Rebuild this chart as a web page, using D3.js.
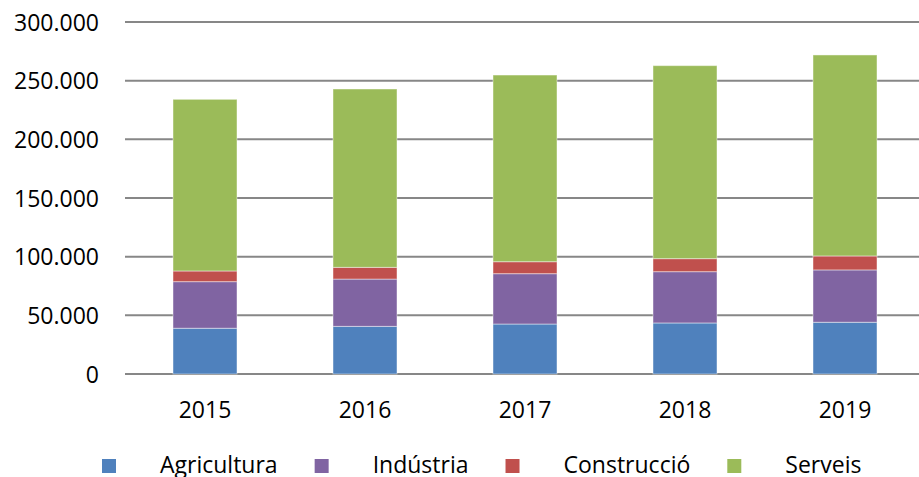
<!DOCTYPE html>
<html>
<head>
<meta charset="utf-8">
<script src="https://cdn.jsdelivr.net/npm/d3@7"></script>
<style>
  body { margin: 0; background: #fff; }
  svg { display: block; font-family: "Open Sans", sans-serif; }
</style>
</head>
<body>
<svg></svg>
<script>
const years = ["2015", "2016", "2017", "2018", "2019"];
const sectors = ["Agricultura", "Indústria", "Construcció", "Serveis"];
const agricultura = [39000, 40600, 42600, 43500, 44100];
const industria = [39700, 40300, 42900, 43700, 44600];
const construccio = [9100, 10000, 10200, 11100, 11900];
const serveis = [146300, 152000, 159100, 164500, 171300];
const yTicks = [0, 50000, 100000, 150000, 200000, 250000, 300000];
const colors = ["#4F81BD", "#8064A2", "#C0504D", "#9BBB59"];

const width = 919;
const height = 477;

const rows = years.map((y, i) => ({
  year: y,
  "Agricultura": agricultura[i],
  "Indústria": industria[i],
  "Construcció": construccio[i],
  "Serveis": serveis[i]
}));

const svg = d3.select("svg").attr("width", width).attr("height", height);

const x = d3.scaleBand().domain(years).range([125, 925]);
const y = d3.scaleLinear().domain([0, 300000]).range([374, 22]);
const color = d3.scaleOrdinal().domain(sectors).range(colors);

const fmt = d3.formatLocale({ decimal: ",", thousands: ".", grouping: [3], currency: ["", "€"] }).format(",d");

// gridlines
svg.append("g")
  .selectAll("line")
  .data(yTicks)
  .join("line")
  .attr("x1", 125)
  .attr("x2", width)
  .attr("y1", d => y(d))
  .attr("y2", d => y(d))
  .attr("stroke", "#878787")
  .attr("stroke-width", 2);

// y labels
svg.append("g")
  .selectAll("text")
  .data(yTicks)
  .join("text")
  .attr("x", 99)
  .attr("y", d => y(d) + 8.5)
  .attr("text-anchor", "end")
  .attr("font-size", 23)
  .attr("fill", "#000")
  .text(d => fmt(d));

// stacked bars
const series = d3.stack().keys(sectors)(rows);
const barW = x.bandwidth() * 0.4;

svg.append("g")
  .selectAll("g")
  .data(series)
  .join("g")
  .attr("fill", d => color(d.key))
  .selectAll("rect")
  .data(d => d)
  .join("rect")
  .attr("x", d => x(d.data.year) + (x.bandwidth() - barW) / 2)
  .attr("y", d => y(d[1]))
  .attr("width", barW)
  .attr("height", d => y(d[0]) - y(d[1]))
  .attr("stroke", "rgba(255,255,255,0.45)")
  .attr("stroke-width", 1);

// x labels
svg.append("g")
  .selectAll("text")
  .data(years)
  .join("text")
  .attr("x", d => x(d) + x.bandwidth() / 2)
  .attr("y", 418)
  .attr("text-anchor", "middle")
  .attr("font-size", 23)
  .attr("fill", "#000")
  .text(d => d);

// legend
const legend = svg.append("g");
let lx = 102;
sectors.forEach((s) => {
  legend.append("rect")
    .attr("x", lx)
    .attr("y", 459)
    .attr("width", 14)
    .attr("height", 14)
    .attr("fill", color(s));
  const t = legend.append("text")
    .attr("x", lx + 58)
    .attr("y", 472.5)
    .attr("font-size", 23)
    .attr("fill", "#000")
    .text(s);
  lx += 58 + t.node().getComputedTextLength() + 37;
});
</script>
</body>
</html>
